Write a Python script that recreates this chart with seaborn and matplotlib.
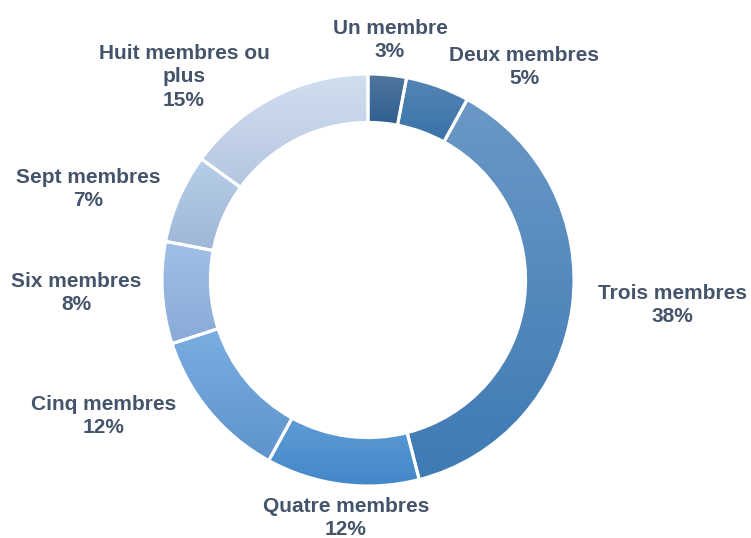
import numpy as np
import seaborn as sns
import matplotlib
matplotlib.use("Agg")
import matplotlib.pyplot as plt
from matplotlib.colors import LinearSegmentedColormap
from matplotlib.patches import Wedge

# Données
categories = ["Un membre", "Deux membres", "Trois membres", "Quatre membres",
              "Cinq membres", "Six membres", "Sept membres", "Huit membres ou\nplus"]
values = [3, 5, 38, 12, 12, 8, 7, 15]

# couleurs haut / bas de chaque secteur (dégradé)
top_colors = ["#52769c", "#5585b5", "#6b98c6", "#5e9cd6",
              "#7aaee2", "#a1bfe6", "#b8cfea", "#d2dff0"]
bottom_colors = ["#2f5f91", "#3a72a8", "#3e7ab4", "#4287c9",
                 "#5e93cc", "#8aaad7", "#9fb6d6", "#b5c6e0"]

# position des étiquettes (pixels de l'image)
label_px = [(390, 40), (524, 67), (672, 305), (346, 518),
            (104, 416), (76, 293), (88, 189), (184, 77)]

sns.set_theme(style="white")
plt.rcParams["font.family"] = ["Liberation Sans", "DejaVu Sans"]

W, H = 751, 538
cx, cy, R = 368, 280, 206

fig = plt.figure(figsize=(W / 100, H / 100), dpi=100)
ax = fig.add_axes([0, 0, 1, 1])

palette = sns.color_palette(top_colors)
wedges, _ = ax.pie(values, colors=palette, startangle=90, counterclock=False,
                   radius=1, wedgeprops=dict(width=0.235, edgecolor="white", linewidth=2.2))

# dégradé vertical dans chaque secteur
for w, c_top, c_bot in zip(wedges, top_colors, bottom_colors):
    cmap = LinearSegmentedColormap.from_list("g", [c_bot, c_top])
    bb = w.get_path().get_extents(w.get_patch_transform())
    grad = np.linspace(0, 1, 256).reshape(-1, 1)
    im = ax.imshow(grad, cmap=cmap, origin="lower", aspect="auto",
                   extent=[bb.x0, bb.x1, bb.y0, bb.y1], zorder=w.get_zorder() + 0.1)
    im.set_clip_path(w)
    edge = Wedge(w.center, w.r, w.theta1, w.theta2, width=w.width,
                 facecolor="none", edgecolor="white", linewidth=2.2,
                 zorder=w.get_zorder() + 0.2)
    ax.add_patch(edge)

for lab, v, (px, py) in zip(categories, values, label_px):
    x = (px - cx) / R
    y = (cy - py) / R
    ax.text(x, y, f"{lab}\n{v}%", ha="center", va="center", fontsize=15,
            fontweight="bold", color="#44546a", linespacing=1.3)

ax.set_xlim(-cx / R, (W - cx) / R)
ax.set_ylim(-(H - cy) / R, cy / R)
ax.set_aspect("equal")
ax.axis("off")

fig.savefig("out.png", dpi=100)
